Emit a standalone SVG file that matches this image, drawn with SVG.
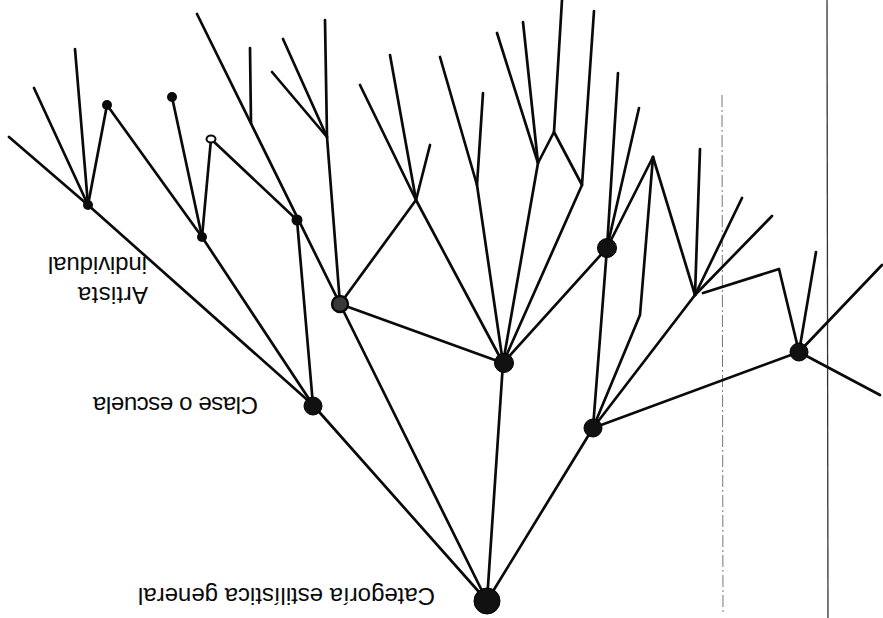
<svg xmlns="http://www.w3.org/2000/svg" width="883" height="618" viewBox="0 0 883 618">
<style>
.ln{stroke:#0a0a0a;stroke-width:2.7;fill:none;stroke-linecap:round;stroke-linejoin:round}
.big{fill:#111;stroke:#000;stroke-width:1}
.dot{fill:#0a0a0a}
.open{fill:#fff;stroke:#0a0a0a;stroke-width:2}
.hatch{fill:#3a3a3a;stroke:#0a0a0a;stroke-width:2.4}
.lbl{font-family:"Liberation Sans",Arial,sans-serif;font-size:24px;fill:#0a0a0a}
.fold{stroke:#333;stroke-width:1.3;fill:none}
.fold2{stroke:#777;stroke-width:1;fill:none;stroke-dasharray:12 3 2 3}
</style>
<rect width="883" height="618" fill="#fff"/>
<g id="folds">
<line class="fold" x1="827" y1="0" x2="828" y2="618"/>
<line class="fold2" x1="722" y1="95" x2="723" y2="612"/>
</g>
<g id="connectors">
<path class="ln" d="M9,137 L88,205 L313,405"/>
<path class="ln" d="M88,205 L34,88"/>
<path class="ln" d="M88,205 L75,49"/>
<path class="ln" d="M88,205 L107,105 L202,237"/>
<path class="ln" d="M202,237 L172,97"/>
<path class="ln" d="M202,237 L211,139 L297,220"/>
<path class="ln" d="M202,237 L313,405"/>
<path class="ln" d="M197,14 L340,304"/>
<path class="ln" d="M250,48 L251,123"/>
<path class="ln" d="M297,220 L313,405"/>
<path class="ln" d="M325,20 L327,137 L340,304"/>
<path class="ln" d="M283,39 L327,137"/>
<path class="ln" d="M272,72 L327,137"/>
<path class="ln" d="M340,304 L416,200"/>
<path class="ln" d="M340,304 L503,363"/>
<path class="ln" d="M340,304 L487,601"/>
<path class="ln" d="M313,405 L487,601"/>
<path class="ln" d="M360,85 L416,200 L503,363"/>
<path class="ln" d="M390,55 L416,200"/>
<path class="ln" d="M430,145 L416,200"/>
<path class="ln" d="M440,57 L477,185 L503,363"/>
<path class="ln" d="M483,93 L477,185"/>
<path class="ln" d="M497,33 L538,163"/>
<path class="ln" d="M523,22 L538,163"/>
<path class="ln" d="M562,0 L554,132 L538,163 L503,363"/>
<path class="ln" d="M554,132 L582,185 L503,363"/>
<path class="ln" d="M594,11 L582,185"/>
<path class="ln" d="M607,248 L503,363"/>
<path class="ln" d="M503,363 L487,601"/>
<path class="ln" d="M607,248 L618,73"/>
<path class="ln" d="M607,248 L639,108"/>
<path class="ln" d="M607,248 L653,157"/>
<path class="ln" d="M607,248 L593,428"/>
<path class="ln" d="M653,157 L640,315 L593,428"/>
<path class="ln" d="M653,157 L695,295"/>
<path class="ln" d="M695,295 L700,149"/>
<path class="ln" d="M695,295 L742,198"/>
<path class="ln" d="M695,295 L772,216"/>
<path class="ln" d="M703,293 L779,269 L799,352"/>
<path class="ln" d="M695,295 L593,428"/>
<path class="ln" d="M799,352 L816,252"/>
<path class="ln" d="M799,352 L882,265"/>
<path class="ln" d="M799,352 L880,395"/>
<path class="ln" d="M799,352 L593,428"/>
<path class="ln" d="M593,428 L487,601"/>
</g>
<g id="root"><circle class="big" cx="487" cy="601" r="13"/></g>
<g id="n313"><circle class="big" cx="313" cy="406" r="9"/></g>
<g id="n340"><circle class="hatch" cx="340" cy="304" r="8"/></g>
<g id="n503"><circle class="big" cx="504" cy="363" r="9.5"/></g>
<g id="n593"><circle class="big" cx="593" cy="428" r="9"/></g>
<g id="n607"><circle class="big" cx="607" cy="248" r="9.5"/></g>
<g id="n799"><circle class="big" cx="799" cy="352" r="9"/></g>
<g id="n88"><circle class="dot" cx="88" cy="205" r="5"/></g>
<g id="n202"><circle class="dot" cx="202" cy="237" r="5"/></g>
<g id="n297"><circle class="dot" cx="297" cy="220" r="5.5"/></g>
<g id="n107"><circle class="dot" cx="107" cy="105" r="5"/></g>
<g id="n172"><circle class="dot" cx="172" cy="97" r="5"/></g>
<g id="n211"><ellipse class="open" cx="211" cy="139" rx="4.5" ry="3.5"/></g>
<g id="labels">
<text class="lbl" transform="translate(435,588) rotate(180)" textLength="297" lengthAdjust="spacing">Categoría estilística general</text>
<text class="lbl" transform="translate(258,397) rotate(180)" textLength="165" lengthAdjust="spacing">Clase o escuela</text>
<text class="lbl" transform="translate(148,287) rotate(180)" textLength="70" lengthAdjust="spacing">Artista</text>
<text class="lbl" transform="translate(147,257) rotate(180)" textLength="99" lengthAdjust="spacing">individual</text>
</g>
</svg>
